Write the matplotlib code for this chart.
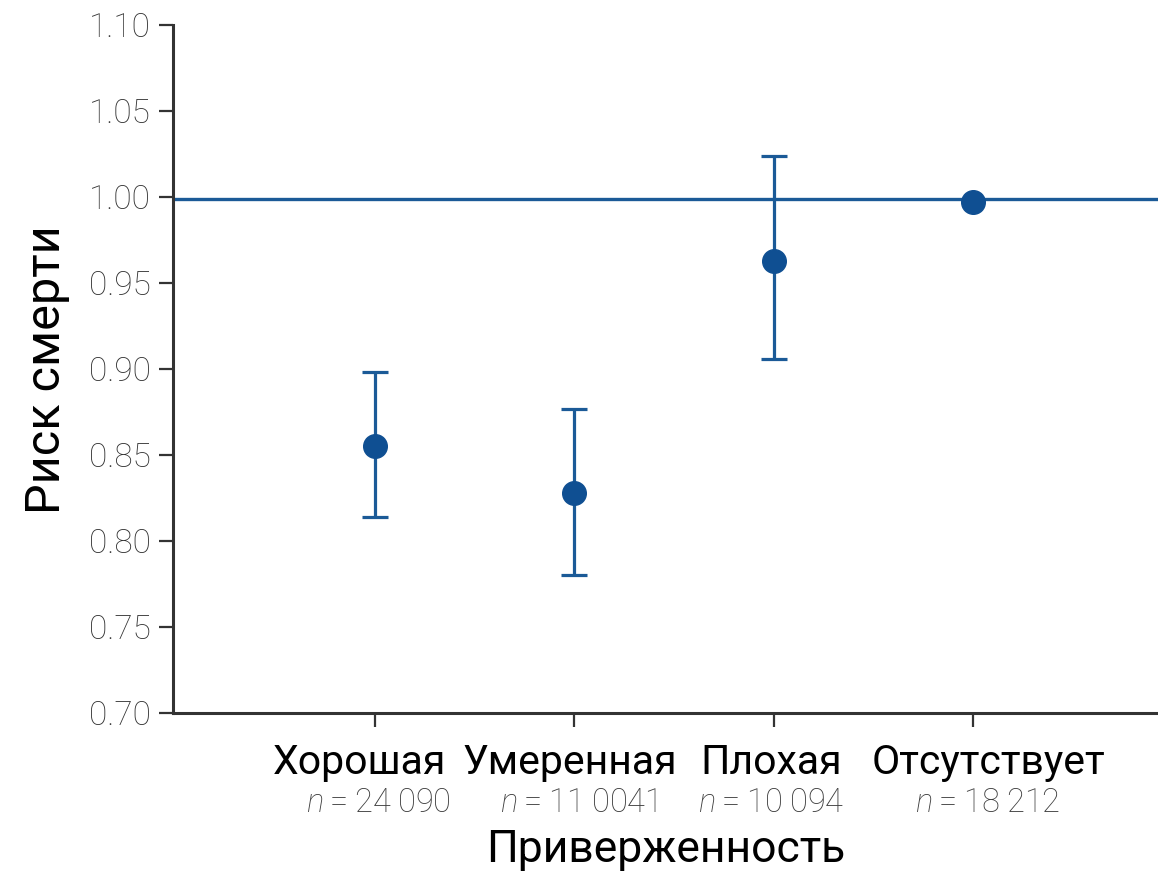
import matplotlib
matplotlib.use("Agg")
import matplotlib.pyplot as plt
import matplotlib.transforms as mtransforms

categories = ["Хорошая", "Умеренная", "Плохая", "Отсутствует"]
n_labels = ["24\u2009090", "11\u20090041", "10\u2009094", "18\u2009212"]
risk = [0.855, 0.828, 0.963, 0.997]
ci_low = [0.814, 0.780, 0.906, None]
ci_high = [0.898, 0.877, 1.024, None]
ref_line = 0.999
yticks = [0.70, 0.75, 0.80, 0.85, 0.90, 0.95, 1.00, 1.05, 1.10]

FONT = ["Roboto", "DejaVu Sans"]
plt.rcParams['font.family'] = FONT
plt.rcParams['mathtext.fontset'] = 'custom'
plt.rcParams['mathtext.it'] = 'Roboto:italic:light'
plt.rcParams['mathtext.rm'] = 'Roboto:light'

blue = "#0f4f92"
line_blue = "#1b5a97"

fig = plt.figure(figsize=(11.58, 8.73), dpi=100)
ax = fig.add_axes([0.1494, 0.1833, 0.8506, 0.7881])

x = list(range(1, len(categories) + 1))
ax.axhline(ref_line, color=line_blue, lw=2.4, zorder=1)

for xi, r, lo, hi in zip(x, risk, ci_low, ci_high):
    if lo is not None:
        ax.errorbar([xi], [r], yerr=[[r - lo], [hi - r]], fmt='none',
                    ecolor=line_blue, elinewidth=2.3, capsize=9.5, capthick=2.3, zorder=2)
    ax.plot([xi], [r], 'o', color=blue, ms=17, zorder=3)

ax.set_xlim(-0.015, 4.93)
ax.set_ylim(0.70, 1.10)
ax.set_yticks(yticks)
ax.set_yticklabels([f"{v:.2f}" for v in yticks], color="#333333", fontsize=24,
                   fontweight="light")
ax.set_xticks(x)
ax.set_xticklabels([])

for s in ["top", "right"]:
    ax.spines[s].set_visible(False)
for s in ["left", "bottom"]:
    ax.spines[s].set_linewidth(2.2)
    ax.spines[s].set_color("#333333")
ax.tick_params(axis='both', direction='out', length=10, width=1.6, color="#333333")
ax.tick_params(axis='y', pad=6)

# horizontal nudges (in points) of the category / n label blocks
cat_shift = [-11, -3, -2, 11]
n_shift = [2, 3, -2, 11]

trans = mtransforms.blended_transform_factory(ax.transData, fig.transFigure)
for xi, c, n, cs, ns in zip(x, categories, n_labels, cat_shift, n_shift):
    ax.annotate(c, xy=(xi, 1 - 763 / 873), xycoords=trans, xytext=(cs, 0),
                textcoords='offset points', ha='center', va='center',
                fontsize=29.5, color="black")
    ax.annotate(r"$n$" + "\u2009=\u2009" + n, xy=(xi, 1 - 803 / 873), xycoords=trans,
                xytext=(ns, 0), textcoords='offset points', ha='center', va='center',
                fontsize=23.5, color="#3c3c3c", fontweight="light")

fig.text((173 + 1158) / 2 / 1158, 1 - 850 / 873, "Приверженность", ha='center', va='center',
         fontsize=32, color="black")
fig.text(47 / 1158, 1 - 370 / 873, "Риск смерти", rotation=90, ha='center', va='center',
         fontsize=35, color="black")

fig.savefig("out.png", dpi=100)
